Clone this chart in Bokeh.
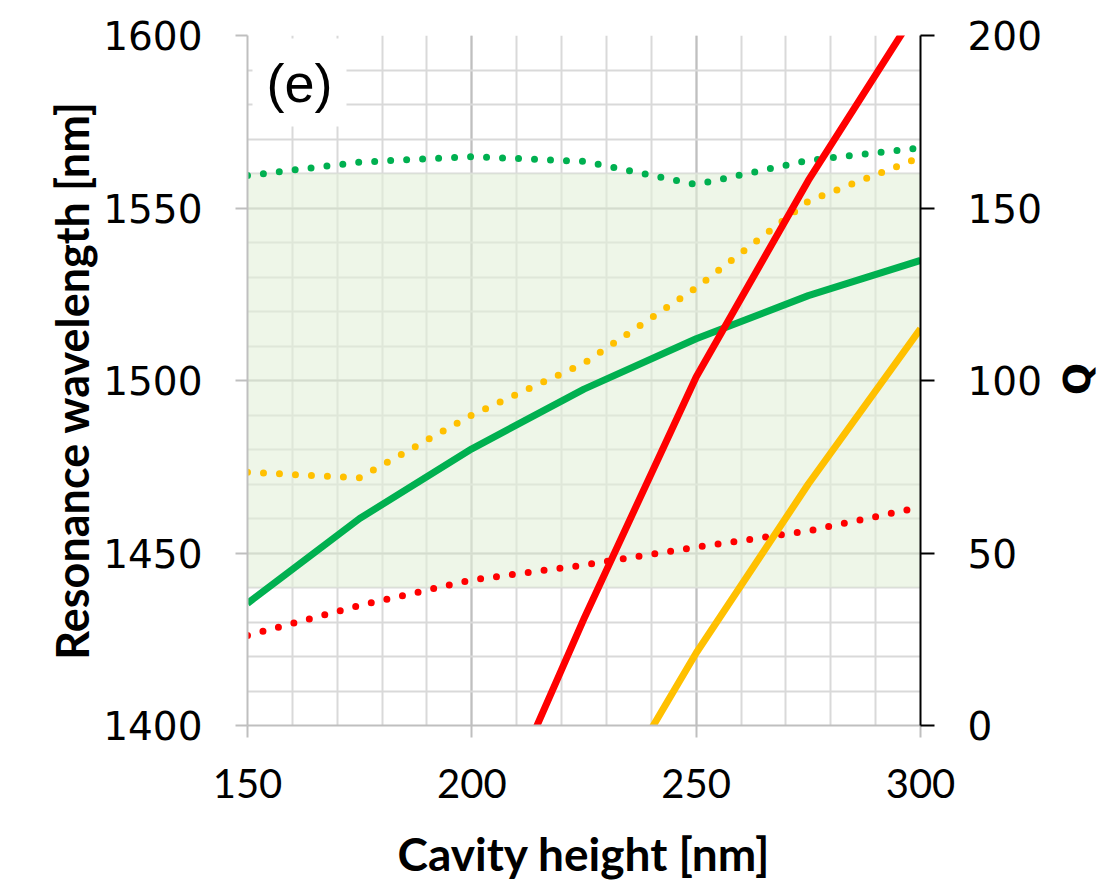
import math
from bokeh.plotting import figure
from bokeh.models import (LinearAxis, Range1d, SingleIntervalTicker, FixedTicker, Label)
from bokeh.embed import file_html
from bokeh.resources import INLINE

# ---------------- data ----------------
height_nm = [150, 175, 200, 225, 250, 275, 300]

# resonance wavelength [nm] (solid lines, left axis)
wl_green = [1435.4, 1460.0, 1480.2, 1497.5, 1512.1, 1524.6, 1534.8]
wl_red = [float("nan"), float("nan"), 1357.0, 1431.0, 1501.0, 1558.0, 1609.0]
wl_yellow = [float("nan"), float("nan"), float("nan"), 1366.0, 1421.0, 1470.0, 1515.0]

# Q (dotted lines, right axis)
q_green = [159.4, 163.3, 164.9, 163.5, 156.8, 163.8, 167.4]
q_yellow = [73.4, 71.8, 90.0, 105.0, 126.9, 152.0, 164.7]
q_red = [26.1, 34.8, 42.2, 46.5, 51.7, 56.4, 63.3]

band_x = [150, 300]
band_low = 1440
band_high = 1560

x_ticks_label = "Cavity height [nm]"
y_left_label = "Resonance wavelength [nm]"
y_right_label = "Q"
q_title_pos = 95.7
panel_tag = "(e)"

GREEN = "#00B050"
RED = "#FF0000"
YELLOW = "#FFC000"

# ---------------- figure ----------------
p = figure(frame_width=673, frame_height=690,
           x_range=Range1d(150, 300), y_range=Range1d(1400, 1600),
           output_backend="svg", toolbar_location=None,
           min_border_left=247, min_border_top=35,
           min_border_right=170, min_border_bottom=150)
p.outline_line_color = None
p.background_fill_color = "white"

p.extra_y_ranges = {"q": Range1d(0, 200)}

xt = SingleIntervalTicker(interval=50, num_minor_ticks=5)
yt = SingleIntervalTicker(interval=50, num_minor_ticks=5)
qt = SingleIntervalTicker(interval=50, num_minor_ticks=0)

p.xaxis.ticker = xt
p.yaxis.ticker = yt
p.xgrid.ticker = xt
p.ygrid.ticker = yt

for g in (p.xgrid, p.ygrid):
    g.grid_line_color = "#BFBFBF"
    g.grid_line_width = 2
    g.minor_grid_line_color = "#D9D9D9"
    g.minor_grid_line_width = 2

# band
p.varea(x=band_x, y1=band_low, y2=band_high, fill_color="#E2F0D9", fill_alpha=0.6)

# dotted Q lines
for vals, col in ((q_red, RED), (q_yellow, YELLOW), (q_green, GREEN)):
    p.line(height_nm, vals, y_range_name="q", line_color=col, line_width=7,
           line_dash="0 16", line_cap="round")

# solid wavelength lines
for vals, col in ((wl_green, GREEN), (wl_yellow, YELLOW), (wl_red, RED)):
    p.line(height_nm, vals, line_color=col, line_width=7, line_join="round")

# axes styling
ax = p.xaxis[0]
ax.axis_label = x_ticks_label
ax.axis_line_color = "#BFBFBF"
ax.axis_line_width = 2
ax.major_tick_line_color = "#BFBFBF"
ax.major_tick_line_width = 2
ax.major_tick_out = 12
ax.major_tick_in = 0
ax.minor_tick_line_color = None
ax.major_label_text_font = "Lato"
ax.major_label_text_font_size = "40px"
ax.major_label_text_color = "black"
ax.major_label_standoff = 31
ax.axis_label_text_font = "Lato"
ax.axis_label_text_font_style = "bold"
ax.axis_label_text_font_size = "46px"
ax.axis_label_text_color = "black"
ax.axis_label_standoff = 25

ay = p.yaxis[0]
ay.axis_label = y_left_label
ay.axis_line_color = "#BFBFBF"
ay.axis_line_width = 2
ay.major_tick_line_color = "#BFBFBF"
ay.major_tick_line_width = 2
ay.major_tick_out = 12
ay.major_tick_in = 0
ay.minor_tick_line_color = None
ay.major_label_text_font = "DejaVu Sans"
ay.major_label_text_font_size = "39px"
ay.major_label_text_color = "black"
ay.major_label_standoff = 33
ay.axis_label_text_font = "Lato"
ay.axis_label_text_font_style = "bold"
ay.axis_label_text_font_size = "45px"
ay.axis_label_text_color = "black"
ay.axis_label_standoff = 1

ar = LinearAxis(y_range_name="q", ticker=qt)
ar.axis_line_color = "black"
ar.axis_line_width = 2
ar.major_tick_line_color = "black"
ar.major_tick_line_width = 2
ar.major_tick_out = 14
ar.major_tick_in = 0
ar.minor_tick_line_color = None
ar.major_label_text_font = "DejaVu Sans"
ar.major_label_text_font_size = "39px"
ar.major_label_text_color = "black"
ar.major_label_standoff = 33
p.add_layout(ar, "right")

# right-hand title "Q", reading bottom-to-top as in the reference
aq = LinearAxis(y_range_name="q", ticker=FixedTicker(ticks=[q_title_pos]),
                major_label_overrides={q_title_pos: y_right_label})
aq.axis_line_color = None
aq.major_tick_line_color = None
aq.minor_tick_line_color = None
aq.major_tick_out = 0
aq.major_tick_in = 0
aq.major_label_orientation = math.pi / 2
aq.major_label_text_font = "DejaVu Sans"
aq.major_label_text_font_style = "bold"
aq.major_label_text_font_size = "38px"
aq.major_label_text_color = "black"
aq.major_label_standoff = 33
p.add_layout(aq, "right")

tag = Label(x=150, y=1600, text=panel_tag, text_font="Liberation Sans",
            text_font_size="54px", text_color="black",
            text_align="left", text_baseline="top",
            x_offset=5, y_offset=-3, background_fill_color="white",
            padding=14)
p.add_layout(tag)

open("out.html", "w").write(file_html(p, INLINE))
